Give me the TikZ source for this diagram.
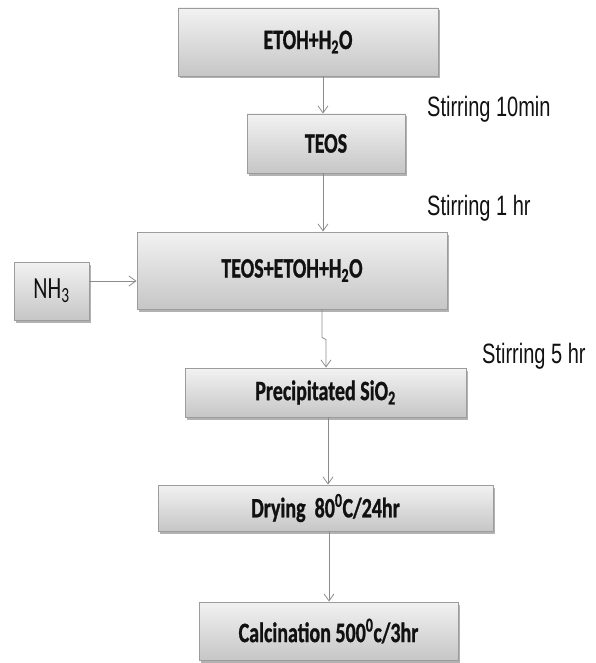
\documentclass[tikz,border=0pt]{standalone}
\usepackage{graphicx}
\usepackage{fontspec}
\setmainfont{Carlito}[BoldFeatures={FakeBold=1.2}]
\newfontfamily\arialf{Liberation Sans}
\usetikzlibrary{arrows.meta,shadows,calc}
\definecolor{boxedge}{HTML}{9C9C9C}
\definecolor{boxtop}{HTML}{F2F2F2}
\definecolor{boxbot}{HTML}{C6C6C6}
\definecolor{arrcol}{HTML}{8C8C8C}
\definecolor{txt}{HTML}{111111}
\newcommand\talltext[1]{\scalebox{1}[1.4]{#1}}
\tikzset{
  boxstyle/.style={draw=boxedge, line width=0.9pt, top color=boxtop, bottom color=boxbot,
    drop shadow={shadow xshift=1.5pt, shadow yshift=-2.5pt, opacity=0.3, fill=black},
    font=\bfseries\fontsize{20}{24}\selectfont, text=txt, inner sep=0pt},
  lab/.style={font=\arialf\fontsize{20}{24}\selectfont, text=txt, inner sep=0pt, anchor=west},
  arr/.style={draw=arrcol, line width=0.8pt, -{Straight Barb[length=7pt,width=10pt,line width=0.8pt]}}
}
\begin{document}
\begin{tikzpicture}[x=1pt,y=-1pt]
\useasboundingbox (0,0) rectangle (596,663);
\node[boxstyle, minimum width=260pt, minimum height=68pt] (etoh) at (308,42) {\talltext{ETOH+H\textsubscript{2}O}};
\node[boxstyle, minimum width=158pt, minimum height=59pt] (teos) at (326,143.5) {\talltext{TEOS}};
\node[boxstyle, minimum width=310pt, minimum height=77pt] (mix) at (292,270.5) {\talltext{TEOS+ETOH+H\textsubscript{2}O}};
\node[boxstyle, minimum width=75pt, minimum height=58pt, font=\fontsize{22}{26}\selectfont] (nh3) at (51.5,291) {\talltext{NH\textsubscript{3}}};
\node[boxstyle, minimum width=281pt, minimum height=49pt] (prec) at (325.5,392.5) {\talltext{Precipitated SiO\textsubscript{2}}};
\node[boxstyle, minimum width=335pt, minimum height=46pt] (dry) at (325.5,508) {\talltext{Drying\ \ 80\textsuperscript{0}C/24hr}};
\node[boxstyle, minimum width=259pt, minimum height=58pt] (calc) at (328.5,631) {\talltext{Calcination 500\textsuperscript{0}c/3hr}};

\node[lab] (l1) at (427,109) {\talltext{Stirring 10min}};
\node[lab] (l2) at (427,208) {\talltext{Stirring 1 hr}};
\node[lab] (l3) at (482,356) {\talltext{Stirring 5 hr}};

\coordinate (ya) at (0,281);
\coordinate (jx) at (326,0);
\draw[arr] ([xshift=15pt]etoh.south) -- ([xshift=-3pt]teos.north);
\draw[arr] ([xshift=-3pt]teos.south) -- ([xshift=31pt]mix.north);
\draw[arr] (nh3.east |- ya) -- (mix.west |- ya);
\draw[arr] ([xshift=30pt]mix.south) -- ++(0,28) -- ++(4,2) -- (prec.north -| jx);
\draw[arr] ([xshift=2.5pt]prec.south) -- ([xshift=2.5pt]dry.north);
\draw[arr] ([xshift=3.5pt]dry.south) -- ([xshift=0.5pt]calc.north);
\end{tikzpicture}
\end{document}
